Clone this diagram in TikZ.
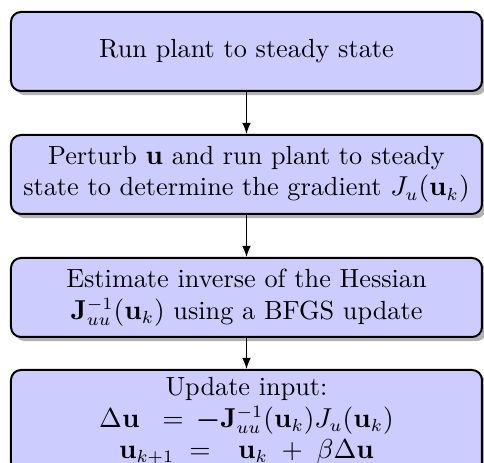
\documentclass[tikz,border=0pt]{standalone}
\usepackage{amsmath}
\usepackage{xcolor}
\usetikzlibrary{arrows.meta,positioning,shadows}
\definecolor{stepFill}{HTML}{CCCCFF}

\begin{document}
\begin{tikzpicture}[font=\fontsize{10.5}{12.6}\selectfont,
    stepbox/.style={draw=black,thick,rounded corners=4pt,fill=stepFill,
      drop shadow={fill=black,opacity=0.3,shadow xshift=1.7pt,shadow yshift=-1.7pt},
      minimum width=188.4pt,minimum height=31.6pt,
      inner sep=3pt,align=center},
    flow/.style={-{Latex[length=4.4pt,width=3.4pt]}}]
  \useasboundingbox (0,0) rectangle (193.6pt,185.2pt);

  \node[stepbox] (run) at (98.6pt,164.6pt) {Run plant to steady state};
  \node[stepbox,below=16.8pt of run] (perturb) {
    Perturb $\mathbf{u}$ and run plant to steady\\
    state to determine the gradient $J_u(\mathbf{u}_k)$};
  \node[stepbox,below=16.8pt of perturb] (hessian) {
    Estimate inverse of the Hessian\\
    $\mathbf{J}^{-1}_{uu}(\mathbf{u}_k)$ using a BFGS update};
  \node[stepbox,below=12.4pt of hessian,minimum height=40.4pt] (update) {
    Update input:\\
    $\Delta\mathbf{u}\;\;=\,\boldsymbol{-}\mathbf{J}^{-1}_{uu}(\mathbf{u}_k)J_u(\mathbf{u}_k)$\\
    $\mathbf{u}_{k+1}\;=\;\;\,\mathbf{u}_k\;+\;\beta\Delta\mathbf{u}$};

  \draw[flow] (run) -- (perturb);
  \draw[flow] (perturb) -- (hessian);
  \draw[flow] (hessian) -- (update);
\end{tikzpicture}
\end{document}
